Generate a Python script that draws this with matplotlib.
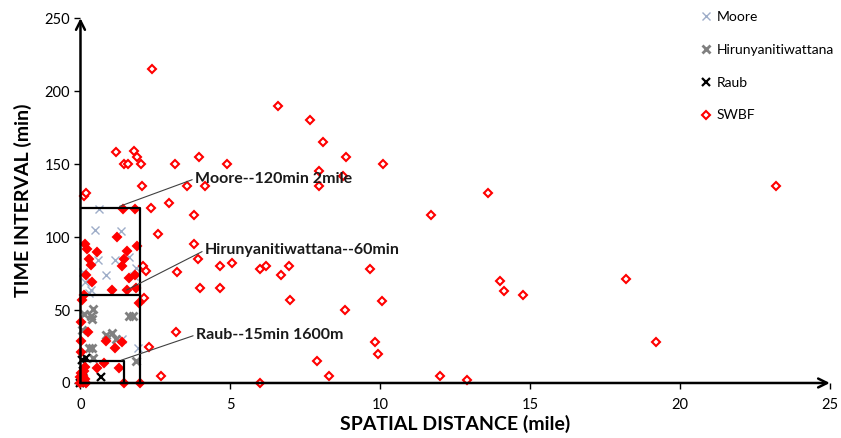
import matplotlib
matplotlib.use("Agg")
import matplotlib.pyplot as plt
import numpy as np

plt.rcParams['font.family'] = ['Lato', 'DejaVu Sans']

# SWBF (spatial distance in mile, time interval in min)
swbf_x = [2.39, 6.6, 7.65, 8.1, 8.85, 10.1, 1.18, 1.45, 1.58, 1.8, 1.9, 2.02, 3.15, 3.95, 4.9,
          7.95, 8.77, 7.95, 2.05, 3.55, 4.15, 0.12, 0.2, 2.35, 2.95, 13.6, 23.2, 11.7, 3.8, 2.6,
          3.8, 3.93, 3.22, 2.1, 2.2, 4.0, 4.67, 4.67, 5.04, 6.0, 6.2, 6.7, 6.97, 9.67, 7.0, 10.07,
          8.82, 14.0, 14.14, 14.75, 18.2, 19.2, 9.83, 9.94, 12.0, 12.9, 7.9, 8.3, 6.0, 2.68, 2.12,
          3.2, 2.3,
          1.43, 1.82, 1.23, 0.15, 1.87, 0.21, 0.56, 1.56, 0.28, 1.45, 0.34, 1.39, 0.19, 1.82, 1.62,
          0.39, 1.06, 1.56, 1.84, 0.12, 1.95, 0.02, 0.25, 0.02, 0.84, 1.14, 1.4, 0.03, 0.78, 0.14,
          0.56, 1.28, 1.45, 2.0, 0.0, 0.05, 0.1, 0.02, 0.15, 0.08, 0.2, 0.0, 0.12, 0.06]
swbf_y = [215, 190, 180, 165, 155, 150, 158, 150, 150, 159, 155, 150, 150, 155, 150,
          145, 142, 135, 135, 135, 135, 128, 130, 120, 123, 130, 135, 115, 115, 102,
          95, 85, 76, 80, 77, 65, 65, 80, 82, 78, 80, 74, 80, 78, 57, 56,
          50, 70, 63, 60, 71, 28, 28, 20, 5, 2, 15, 5, 0, 5, 58,
          35, 25,
          119.5, 119.5, 100, 95, 94, 91.5, 89.7, 90.4, 85, 85, 81, 80, 74, 74, 72,
          69, 64, 64, 65, 60, 55, 42, 35, 29, 29, 24, 28, 21, 14, 11,
          10, 10, 0, 0, 0, 2, 5, 7, 3, 1, 0, 4, 8, 57]

moore_x = [0.63, 0.49, 1.35, 0.6, 1.16, 1.63, 0.86, 1.85, 0.16, 0.1, 0.35, 0.28, 1.78, 1.93, 1.4]
moore_y = [119, 105, 104, 84, 84, 86, 74, 79, 69, 76, 64, 62, 73, 24, 30]

hirun_x = [0.43, 0.35, 0.4, 1.62, 1.76, 0.85, 1.05, 1.17, 0.28, 0.4, 0.43, 1.85, 0.05, 0.12]
hirun_y = [51, 46, 44, 46, 46, 33, 34, 30, 24, 24, 17, 15, 36, 47]

raub_x = [0.17, 0.06, 0.67, 0.1, 0.05, 0.0, 0.12]
raub_y = [17, 16, 4, 8, 3, 0, 1]

x_ticks = [0, 5, 10, 15, 20, 25]
y_ticks = [0, 50, 100, 150, 200, 250]

fig = plt.figure(figsize=(8.41, 4.38), dpi=100)
ax = fig.add_axes([0.0957, 0.1256, 0.891, 0.833])
ax.set_xlim(0, 25)
ax.set_ylim(0, 250)

ax.plot(moore_x, moore_y, ls='none', marker='x', ms=6, mew=1.0, color='#9eadc8',
        clip_on=False, label='Moore')
ax.plot(hirun_x, hirun_y, ls='none', marker='x', ms=6, mew=2.0, color='#808080',
        clip_on=False, label='Hirunyanitiwattana')
ax.plot(raub_x, raub_y, ls='none', marker='x', ms=6, mew=1.6, color='black',
        clip_on=False, label='Raub')

sx = np.array(swbf_x)
sy = np.array(swbf_y)
inside = (sx <= 2.0) & (sy <= 120)
ax.plot(sx[~inside], sy[~inside], ls='none', marker='D', ms=4.5, mew=1.5, color='red',
        mfc='white', clip_on=False, label='SWBF')
ax.plot(sx[inside], sy[inside], ls='none', marker='D', ms=4.5, mew=1.5, color='red',
        mfc='red', clip_on=False)

# boxes for the thresholds
ax.plot([0, 2, 2], [120, 120, 0], color='black', lw=1.6)
ax.plot([0, 2], [60, 60], color='black', lw=1.6)
ax.plot([0, 1.45, 1.45], [15, 15, 0], color='black', lw=1.6)

notes = [("Moore--120min 2mile", (1.3, 121), (3.82, 140)),
         ("Hirunyanitiwattana--60min", (1.54, 63.7), (4.15, 91)),
         ("Raub--15min 1600m", (1.37, 15.7), (3.85, 33))]
for txt, xy, xyt in notes:
    ax.annotate(txt, xy=xy, xytext=xyt, fontsize=11.5, fontweight='bold', color='#1a1a1a',
                va='center', ha='left',
                arrowprops=dict(arrowstyle='-', color='#404040', lw=0.8,
                                shrinkA=0, shrinkB=0, relpos=(0, 0.5)))

# axes with arrow heads
for s in ax.spines.values():
    s.set_visible(False)
ax.annotate('', xy=(25, 0), xytext=(0, 0), annotation_clip=False,
            arrowprops=dict(arrowstyle='->', lw=1.8, color='black', mutation_scale=16,
                            shrinkA=0, shrinkB=0))
ax.annotate('', xy=(0, 250), xytext=(0, 0), annotation_clip=False,
            arrowprops=dict(arrowstyle='->', lw=1.8, color='black', mutation_scale=16,
                            shrinkA=0, shrinkB=0))

ax.set_xticks(x_ticks)
ax.set_yticks(y_ticks)
ax.tick_params(direction='out', length=4, width=1, labelsize=10.5, colors='black')
ax.tick_params(axis='x', pad=7)
ax.set_xlabel('SPATIAL DISTANCE (mile)', fontsize=14, fontweight='bold', labelpad=2)
ax.set_ylabel('TIME INTERVAL (min)', fontsize=14, fontweight='bold', labelpad=9)

ax.legend(loc='upper left', bbox_to_anchor=(0.82, 1.035), frameon=False, fontsize=10,
          handlelength=0.8, handletextpad=0.35, labelspacing=1.5, borderaxespad=0)

fig.savefig('out.png', dpi=100)
